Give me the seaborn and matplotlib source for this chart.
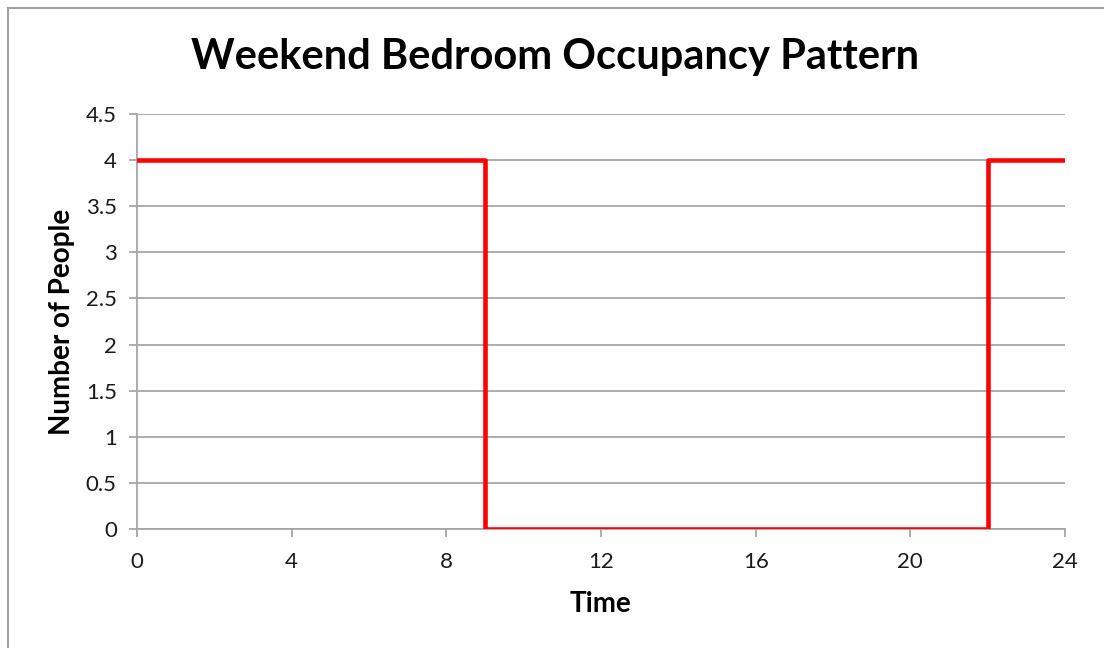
import matplotlib
matplotlib.use("Agg")
import matplotlib.pyplot as plt
import seaborn as sns
import pandas as pd
from matplotlib.patches import Rectangle

# Occupancy schedule: number of people from each change time onward
hours = [0, 9, 22, 24]
people = [4, 0, 4, 4]
x_ticks = [0, 4, 8, 12, 16, 20, 24]
y_ticks = [0, 0.5, 1, 1.5, 2, 2.5, 3, 3.5, 4, 4.5]

sns.set_theme(style="white")
plt.rcParams["font.family"] = ["Lato", "DejaVu Sans"]

df = pd.DataFrame({"Time": hours, "People": people})

fig = plt.figure(figsize=(11.04, 6.48), dpi=100)
ax = fig.add_axes([137 / 1104, 1 - 529 / 648, (1065 - 137) / 1104, (529 - 114) / 648])

grid_col = "#a6a6a6"
for y in y_ticks:
    ax.axhline(y, color=grid_col, lw=1.3, zorder=1)

sns.lineplot(data=df, x="Time", y="People", ax=ax, color="#ff0000",
             lw=3.3, drawstyle="steps-post", zorder=3)

ax.set_xlim(0, 24)
ax.set_ylim(0, 4.5)
ax.set_xticks(x_ticks)
ax.set_yticks(y_ticks)
ax.set_yticklabels([f"{v:g}" for v in y_ticks])
ax.set_xticklabels([str(v) for v in x_ticks])

for s in ["top", "right"]:
    ax.spines[s].set_visible(False)
for s in ["left", "bottom"]:
    ax.spines[s].set_color(grid_col)
    ax.spines[s].set_linewidth(1.3)
    ax.spines[s].set_zorder(2)

ax.tick_params(axis="both", which="major", direction="out", length=5.5,
               width=1.3, color=grid_col, labelsize=16, labelcolor="#1a1a1a",
               bottom=True, left=True)
ax.tick_params(axis="x", pad=11)
ax.tick_params(axis="y", pad=9)

ax.set_xlabel("Time", fontsize=20, fontweight="bold", labelpad=14, color="black")
ax.set_ylabel("Number of People", fontsize=20, fontweight="bold", labelpad=8, color="black")

fig.suptitle("Weekend Bedroom Occupancy Pattern", x=0.503, y=1 - 57 / 648,
             va="center", fontsize=30, fontweight="bold", color="black")

# Chart frame
fig.patches.append(Rectangle((8 / 1104, -0.1), 1.2, 1 - 8 / 648 + 0.1,
                             transform=fig.transFigure, fill=False,
                             edgecolor="#a0a0a0", lw=1.5))

fig.savefig("out.png", dpi=100)
